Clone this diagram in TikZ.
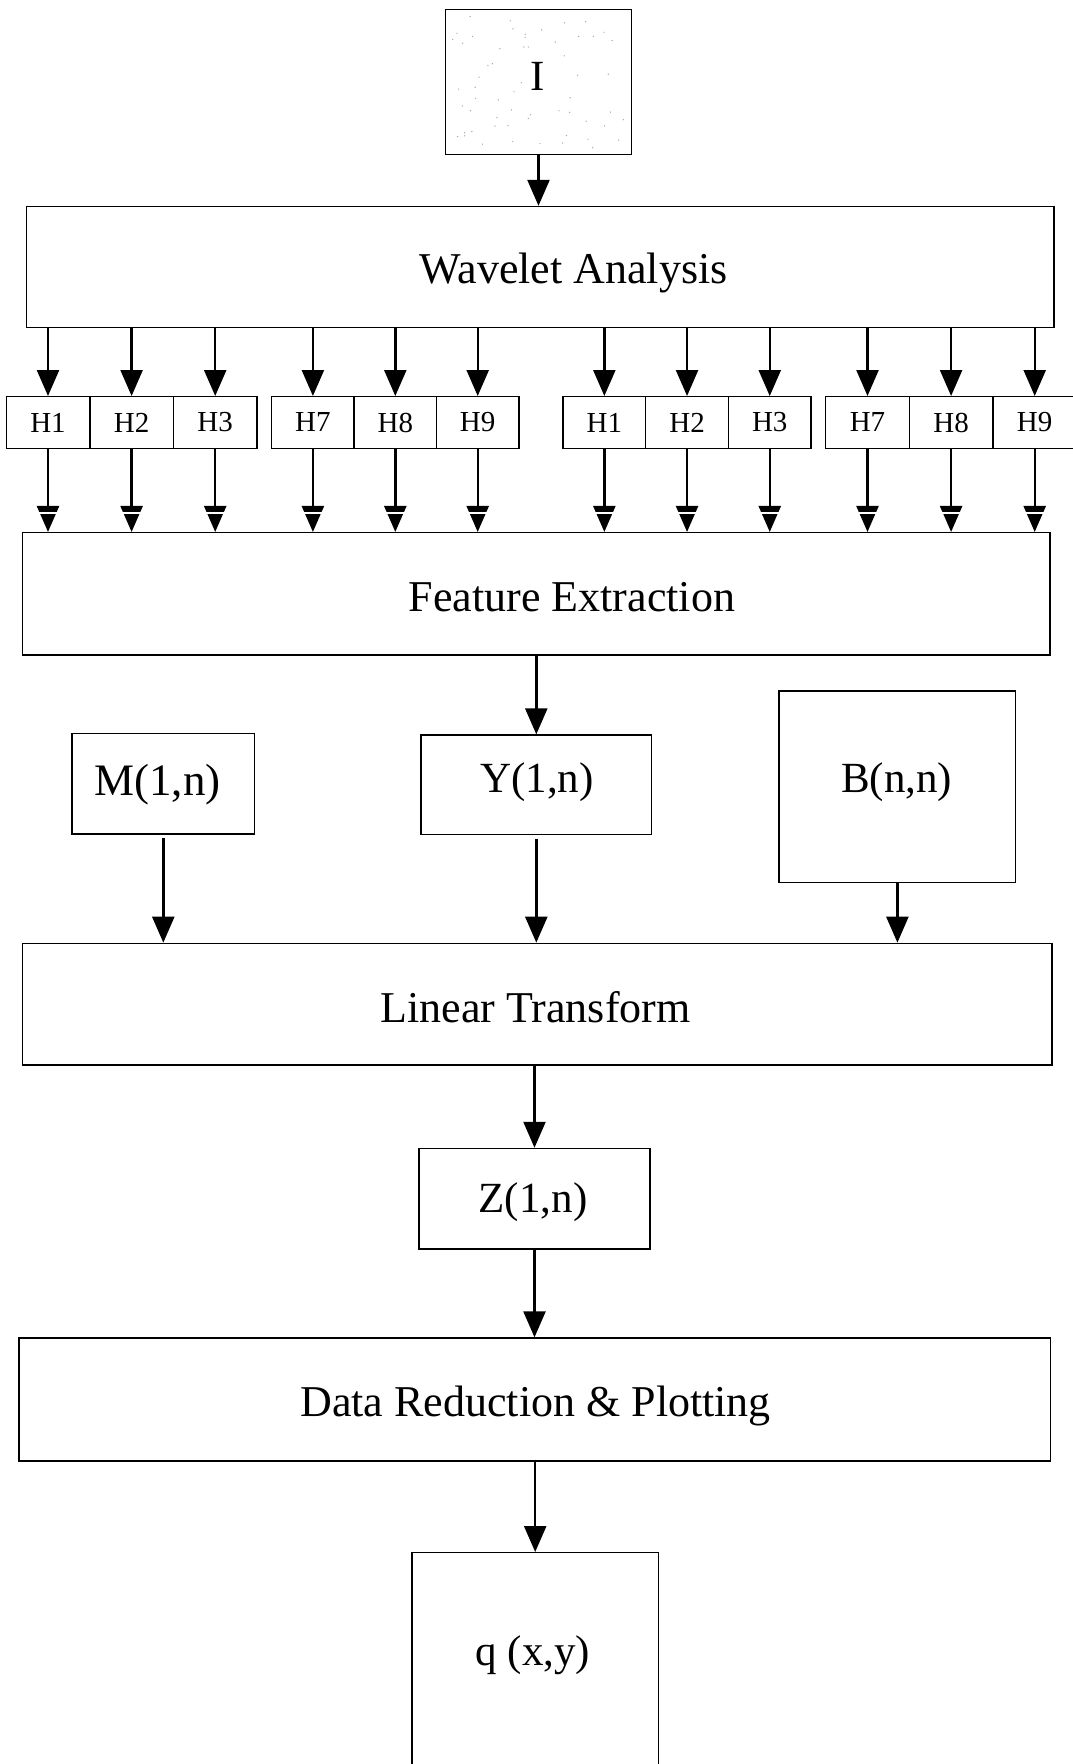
\documentclass[tikz,border=0pt]{standalone}
\usepackage{fontspec}
\setmainfont{Liberation Serif}
\usetikzlibrary{arrows.meta,calc}
\begin{document}
\begin{tikzpicture}[x=1pt,y=-1pt,
  box/.style={draw, line width=1.4pt, inner sep=0pt, align=center},
  big/.style={font=\fontsize{44}{50}\selectfont},
  mid/.style={font=\fontsize{43}{50}\selectfont},
  small/.style={font=\fontsize{29}{34}\selectfont},
  arr/.style={line width=2.4pt, -{Triangle[width=22pt,length=26pt]}},
  stripe/.style={white, line width=1.4pt}
]
\clip (0,0) rectangle (1073,1764);
\fill[white] (0,0) rectangle (1073,1764);

% input image box
\node[box, minimum width=186pt, minimum height=145pt] (I) at (538.5,81.7) {};
\pgfmathsetseed{7}
\foreach \k in {1,...,60}{
  \pgfmathsetmacro\px{452+174*rnd}
  \pgfmathsetmacro\py{14+134*rnd}
  \fill[black!35] (\px,\py) circle (0.7pt);
}
\node[mid] (It) at (537.6,76) {I};

% main blocks
\node[box, minimum width=1027.5pt, minimum height=121pt] (W) at (540.3,267) {};
\node[big] (Wt) at (573.5,273) {Wavelet Analysis};
\node[box, minimum width=1027.5pt, minimum height=122.3pt] (F) at (536.3,593.8) {};
\node[big] (Ft) at (572,597) {Feature Extraction};

\node[box, minimum width=182.6pt, minimum height=100.7pt] (M) at (163.3,783.7) {};
\node[font=\fontsize{45}{50}\selectfont] (Mt) at (157.4,785) {M(1,n)};
\node[box, minimum width=230.6pt, minimum height=99.3pt] (Y) at (536.3,784.7) {};
\node[mid] (Yt) at (537,781.7) {Y(1,n)};
\node[box, minimum width=236.7pt, minimum height=191.3pt] (B) at (897.4,786.7) {};
\node[mid] (Bt) at (896.6,781.7) {B(n,n)};

\node[box, minimum width=1029.4pt, minimum height=121.7pt] (L) at (537.3,1004.2) {};
\node[big] (Lt) at (535.6,1007) {Linear Transform};
\node[box, minimum width=231pt, minimum height=100.5pt] (Z) at (534.5,1198.7) {};
\node[mid] (Zt) at (533,1202) {Z(1,n)};
\node[box, minimum width=1031.6pt, minimum height=123pt] (D) at (534.8,1399.5) {};
\node[big] (Dt) at (535.6,1406) {Data Reduction \& Plotting};
\node[box, minimum width=246.4pt, minimum height=260pt, anchor=north] (Q) at (535.2,1552) {};
\node[mid] (Qt) at (532.8,1655) {q (x,y)};

% H cells
\foreach \grp/\left/\w/\la/\lb/\lc in {1/6.2/83.6/H1/H2/H3, 2/271.7/82.4/H7/H8/H9, 3/563/82.7/H1/H2/H3, 4/825.7/83.6/H7/H8/H9}{
  \foreach \i/\t in {0/\la,1/\lb,2/\lc}{
    \pgfmathsetmacro\cx{\left+\w*(\i+0.5)}
    \node[box, small, minimum width=\w pt, minimum height=51.6pt] (h\grp\i) at (\cx,422.5) {\t};
    \draw[arr] (h\grp\i.north |- W.south) -- (h\grp\i.north);
    \draw[arr] (h\grp\i.south) -- (h\grp\i.south |- F.north);
    \draw[stripe] ($(h\grp\i.south |- F.north)+(-12,-19)$) -- ++(24,0);
  }
}

% connectors
\draw[arr] (I.south) -- (I.south |- W.north);
\draw[arr] (Y.north |- F.south) -- (Y.north);
\draw[arr] ([yshift=-3.5pt]M.south) -- (M.south |- L.north);
\draw[arr] ([yshift=-3.5pt]Y.south) -- (Y.south |- L.north);
\draw[arr] (B.south) -- (B.south |- L.north);
\draw[arr] (Z.north |- L.south) -- (Z.north);
\draw[arr] (Z.south) -- (Z.south |- D.north);
\draw[arr] (Q.north |- D.south) -- (Q.north);
\end{tikzpicture}
\end{document}
